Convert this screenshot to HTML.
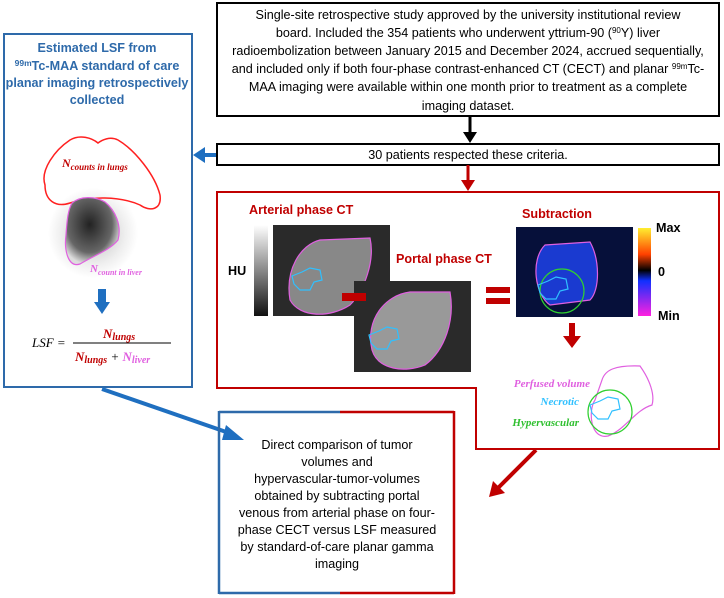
<!DOCTYPE html>
<html><head><style>
html,body{margin:0;padding:0;background:#fff;width:724px;height:598px;overflow:hidden}
svg{display:block}
text{font-family:"Liberation Sans",sans-serif}
.ser,.ser text,.ser tspan{font-family:"Liberation Serif",serif !important;font-style:italic}
</style></head><body>
<svg width="724" height="598" viewBox="0 0 724 598" xmlns="http://www.w3.org/2000/svg">
<defs>
<linearGradient id="hu" x1="0" y1="0" x2="0" y2="1"><stop offset="0" stop-color="#fff"/><stop offset="1" stop-color="#111"/></linearGradient>
<linearGradient id="cb" x1="0" y1="0" x2="0" y2="1"><stop offset="0" stop-color="#ffef30"/><stop offset="0.3" stop-color="#ff4000"/><stop offset="0.48" stop-color="#000"/><stop offset="0.6" stop-color="#1030ff"/><stop offset="1" stop-color="#ff20e0"/></linearGradient>
<radialGradient id="liv" cx="0.45" cy="0.4" r="0.6"><stop offset="0" stop-color="#222"/><stop offset="0.7" stop-color="#666"/><stop offset="1" stop-color="#ddd"/></radialGradient>
<radialGradient id="halo" cx="0.5" cy="0.5" r="0.5"><stop offset="0" stop-color="#bbb"/><stop offset="0.7" stop-color="#eee"/><stop offset="1" stop-color="#fff"/></radialGradient>
</defs>
<rect x="217" y="3" width="502" height="113" fill="#fff" stroke="#000" stroke-width="2"/>
<g font-size="12.6" text-anchor="middle" fill="#000">
<text x="468" y="19">Single-site retrospective study approved by the university institutional review</text>
<text x="468" y="37">board. Included the 354 patients who underwent yttrium-90 (<tspan font-size="8" dy="-4">90</tspan><tspan dy="4">Y) liver</tspan></text>
<text x="468" y="55">radioembolization between January 2015 and December 2024, accrued sequentially,</text>
<text x="468" y="73">and included only if both four-phase contrast-enhanced CT (CECT) and planar <tspan font-size="8" dy="-4">99m</tspan><tspan dy="4">Tc-</tspan></text>
<text x="468" y="91">MAA imaging were available within one month prior to treatment as a complete</text>
<text x="468" y="110">imaging dataset.</text>
</g>
<line x1="470" y1="116" x2="470" y2="134" stroke="#000" stroke-width="3"/>
<polygon points="463,132 477,132 470,143" fill="#000"/>
<rect x="217" y="144" width="502" height="21" fill="#fff" stroke="#000" stroke-width="2"/>
<text x="468" y="159" font-size="12.6" text-anchor="middle">30 patients respected these criteria.</text>
<line x1="216" y1="155" x2="203" y2="155" stroke="#1f6fc0" stroke-width="4"/>
<polygon points="205,147 205,163 193,155" fill="#1f6fc0"/>
<line x1="468" y1="165" x2="468" y2="182" stroke="#c00000" stroke-width="3"/>
<polygon points="461,180 475,180 468,191" fill="#c00000"/>
<rect x="4" y="34" width="188" height="353" fill="#fff" stroke="#2e6aaa" stroke-width="2"/>
<g font-size="12.6" font-weight="bold" fill="#2e6aaa" text-anchor="middle">
<text x="97" y="52">Estimated LSF from</text>
<text x="97" y="70"><tspan font-size="8.5" dy="-4">99m</tspan><tspan dy="4">Tc-MAA  standard of care</tspan></text>
<text x="97" y="87">planar imaging retrospectively</text>
<text x="97" y="104">collected</text>
</g>
<ellipse cx="93" cy="233" rx="45" ry="45" fill="url(#halo)"/>
<path d="M45,185 C40,170 55,150 70,140 C80,134 92,138 98,143 C102,140 110,136 118,140 C135,150 155,175 160,195 C162,210 150,212 140,205 C120,196 90,196 70,203 C55,208 45,200 45,185 Z" fill="none" stroke="#ff2020" stroke-width="1.5"/>
<text class="ser" x="62" y="167" font-weight="bold" font-size="12" fill="#c00000">N<tspan font-size="9" dy="3">counts in lungs</tspan></text>
<path d="M72,203 C80,196 95,196 105,202 C115,210 122,225 118,240 C110,250 95,255 80,264 C68,268 64,250 66,235 C67,220 68,210 72,203 Z" fill="url(#liv)" stroke="#e060e0" stroke-width="1.2"/>
<text class="ser" x="90" y="272" font-weight="bold" font-size="11" fill="#e060e0">N<tspan font-size="8" dy="3">count in liver</tspan></text>
<rect x="98" y="289" width="8" height="14" fill="#1f6fc0"/>
<polygon points="94,302 110,302 102,314" fill="#1f6fc0"/>
<g class="ser" font-size="13">
<text class="ser" x="32" y="347">LSF =</text>
<line x1="73" y1="343" x2="171" y2="343" stroke="#000" stroke-width="1"/>
<text class="ser" x="103" y="338" font-weight="bold" fill="#c00000">N<tspan font-size="10" dy="2">lungs</tspan></text>
<text class="ser" x="75" y="361" font-weight="bold" fill="#c00000">N<tspan font-size="10" dy="2">lungs</tspan><tspan dy="-2" fill="#000" font-weight="normal"> + </tspan><tspan fill="#e060e0">N</tspan><tspan font-size="10" dy="2" fill="#e060e0">liver</tspan></text>
</g>
<line x1="102" y1="389" x2="232" y2="434" stroke="#1f6fc0" stroke-width="4"/>
<polygon points="226,425 222,440 244,440" fill="#1f6fc0"/>
<path d="M217,192 L719,192 L719,449 L476,449 L476,388 L217,388 Z" fill="none" stroke="#c00000" stroke-width="2"/>
<text x="249" y="214" font-size="12.6" font-weight="bold" fill="#c00000">Arterial phase CT</text>
<rect x="254" y="225" width="14" height="91" fill="url(#hu)"/>
<text x="228" y="275" font-size="12.6" font-weight="bold">HU</text>
<rect x="273" y="225" width="117" height="91" fill="#2a2a2a"/>
<path d="M290,300 C285,270 300,245 320,240 L370,238 C375,260 365,290 350,305 C330,318 300,318 290,300 Z" fill="#888" stroke="#e060e0" stroke-width="1.2"/>
<path d="M292,276 l10,-4 l8,-4 l10,2 l2,10 l-8,2 l-4,8 l-10,0 l-6,-6 Z" fill="none" stroke="#30c0ff" stroke-width="1.2"/>
<text x="396" y="263" font-size="12.6" font-weight="bold" fill="#c00000">Portal phase CT</text>
<rect x="354" y="281" width="117" height="91" fill="#2a2a2a"/>
<path d="M372,350 C365,320 385,295 410,292 L450,292 C455,320 445,350 425,365 C405,373 378,370 372,350 Z" fill="#999" stroke="#e060e0" stroke-width="1.2"/>
<path d="M369,335 l10,-4 l8,-4 l10,2 l2,10 l-8,2 l-4,8 l-10,0 l-6,-6 Z" fill="none" stroke="#30c0ff" stroke-width="1.2"/>
<rect x="342" y="293" width="24" height="8" fill="#c00000"/>
<rect x="486" y="287" width="24" height="6" fill="#c00000"/>
<rect x="486" y="298" width="24" height="6" fill="#c00000"/>
<text x="522" y="218" font-size="12.6" font-weight="bold" fill="#c00000">Subtraction</text>
<rect x="516" y="227" width="117" height="90" fill="#06103a"/>
<path d="M545,245 L590,242 C600,260 600,290 590,300 L550,305 C535,295 530,260 545,245 Z" fill="#1a3ad0" stroke="#e060e0" stroke-width="1.2"/>
<circle cx="562" cy="291" r="22" fill="none" stroke="#30d030" stroke-width="1.2"/>
<path d="M538,285 l10,-4 l8,-4 l10,2 l2,10 l-8,2 l-4,8 l-10,0 l-6,-6 Z" fill="none" stroke="#30c0ff" stroke-width="1.2"/>
<rect x="638" y="228" width="13" height="88" fill="url(#cb)"/>
<text x="656" y="232" font-size="12.6" font-weight="bold">Max</text>
<text x="658" y="276" font-size="12.6" font-weight="bold">0</text>
<text x="658" y="320" font-size="12.6" font-weight="bold">Min</text>
<rect x="569" y="323" width="6" height="14" fill="#c00000"/>
<polygon points="563,336 581,336 572,348" fill="#c00000"/>
<path d="M602,380 C605,370 615,365 640,366 C650,380 655,395 652,405 C635,410 625,430 608,436 C590,440 588,410 595,400 Z" fill="none" stroke="#e060e0" stroke-width="1.2"/>
<circle cx="610" cy="412" r="22" fill="none" stroke="#30d030" stroke-width="1.2"/>
<path d="M590,405 l10,-4 l8,-4 l10,2 l2,10 l-8,2 l-4,8 l-10,0 l-6,-6 Z" fill="none" stroke="#30c0ff" stroke-width="1.2"/>
<g font-weight="bold" font-size="11">
<text class="ser" x="590" y="387" text-anchor="end" fill="#e060e0">Perfused volume</text>
<text class="ser" x="579" y="405" text-anchor="end" fill="#30c0ff">Necrotic</text>
<text class="ser" x="579" y="426" text-anchor="end" fill="#30c030">Hypervascular</text>
</g>
<line x1="536" y1="450" x2="498" y2="488" stroke="#c00000" stroke-width="4"/>
<polygon points="489,497 493,481 505,493" fill="#c00000"/>
<line x1="219" y1="412" x2="340" y2="412" stroke="#2e6aaa" stroke-width="2.5"/>
<line x1="340" y1="412" x2="454" y2="412" stroke="#c00000" stroke-width="2.5"/>
<line x1="219" y1="593" x2="340" y2="593" stroke="#2e6aaa" stroke-width="2.5"/>
<line x1="340" y1="593" x2="454" y2="593" stroke="#c00000" stroke-width="2.5"/>
<line x1="219" y1="411" x2="219" y2="594" stroke="#2e6aaa" stroke-width="2.5"/>
<line x1="454" y1="411" x2="454" y2="594" stroke="#c00000" stroke-width="2.5"/>
<g font-size="12.6" text-anchor="middle">
<text x="337" y="449">Direct comparison of tumor</text>
<text x="337" y="466">volumes and</text>
<text x="337" y="483">hypervascular-tumor-volumes</text>
<text x="337" y="500">obtained by subtracting portal</text>
<text x="337" y="517">venous from arterial phase on four-</text>
<text x="337" y="534">phase CECT versus LSF measured</text>
<text x="337" y="551">by standard-of-care planar gamma</text>
<text x="337" y="568">imaging</text>
</g>
</svg>
</body></html>
